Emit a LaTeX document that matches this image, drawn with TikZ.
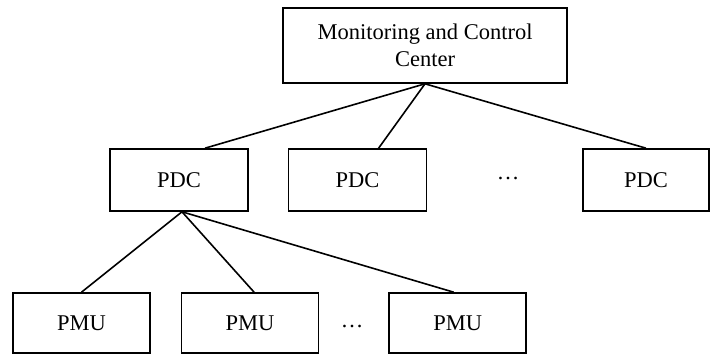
\documentclass[tikz,border=0pt]{standalone}
\usepackage{fontspec}
\setmainfont{Liberation Serif}
\usepackage{tikz}
\usetikzlibrary{positioning}

\begin{document}
\begin{tikzpicture}[
  x=1pt, y=1pt,
  box/.style={draw, line width=1.6pt, align=center, font=\fontsize{22.5}{27}\selectfont, inner sep=0pt},
  pdcbox/.style={box, minimum width=138pt, minimum height=62pt},
  pmubox/.style={box, minimum width=137pt, minimum height=60pt},
  link/.style={line width=1.6pt},
  gap/.style={font=\fontsize{22.5}{27}\selectfont, inner sep=0pt, anchor=base},
]
\useasboundingbox (0,0) rectangle (710,356);

% control center
\node[box, minimum width=284pt, minimum height=75pt] (mcc) at (425,310.5) {Monitoring and Control\\Center};

% PDC layer
\node[pdcbox] (pdc1) at (179,176) {PDC};
\node[pdcbox, right=39pt of pdc1] (pdc2) {PDC};
\node[gap] (pdcdots) at (508,176) {\dots};
\node[pdcbox, minimum width=126pt] (pdc4) at (646,176) {PDC};

% PMU layer
\node[pmubox] (pmu1) at (81.5,33) {PMU};
\node[pmubox, right=30pt of pmu1] (pmu2) {PMU};
\node[pmubox, right=69pt of pmu2] (pmu3) {PMU};
\node[gap] (pmudots) at (352,28) {\dots};

\draw[link] (mcc.south) -- ([xshift=26pt]pdc1.north);
\draw[link] (mcc.south) -- ([xshift=21pt]pdc2.north);
\draw[link] (mcc.south) -- (pdc4.north);

\draw[link] ([xshift=3pt]pdc1.south) -- (pmu1.north);
\draw[link] ([xshift=3pt]pdc1.south) -- ([xshift=4pt]pmu2.north);
\draw[link] ([xshift=3pt]pdc1.south) -- ([xshift=-4pt]pmu3.north);

\end{tikzpicture}
\end{document}
